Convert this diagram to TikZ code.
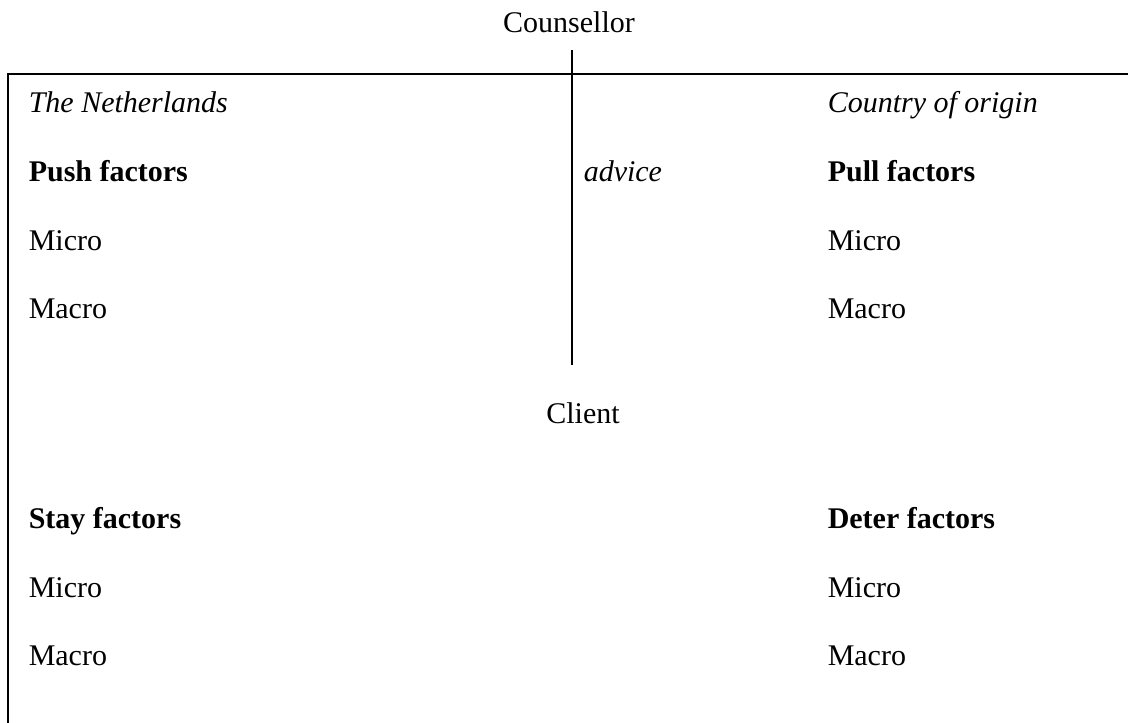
\documentclass[tikz,border=0pt]{standalone}
\usepackage{fontspec}
\setmainfont{Liberation Serif}

\begin{document}
\begin{tikzpicture}[x=1pt,y=-1pt,line width=1.5pt,
    txt/.style={inner sep=0pt, anchor=base west, font=\fontsize{30}{36}\selectfont},
    mid/.style={txt, anchor=base},
    head/.style={txt, font=\fontsize{30}{36}\selectfont\bfseries},
    place/.style={txt, font=\fontsize{30}{36}\selectfont\itshape}]
    \useasboundingbox (0,0) rectangle (1128,723);

    % Caja y linea divisoria
    \coordinate (boxtr) at (1128,74);
    \coordinate (boxtl) at (8,74);
    \coordinate (boxbl) at (8,723);
    \coordinate (divtop) at (572,50);
    \coordinate (divbot) at (572,365);
    \draw (boxtr) -- (boxtl) -- (boxbl);
    \draw (divtop) -- (divbot);

    % Actores
    \node[mid] (counsellor) at (569,32) {Counsellor};
    \node[mid] (client) at (583,423) {Client};

    % Lugares
    \node[place] (nl) at (28,112) {The Netherlands};
    \node[place] (origin) at (827,112) {Country of origin};
    \node[place] (advice) at (583,181) {advice};

    % Factores
    \node[head] (push) at (28,181) {Push factors};
    \node[head] (pull) at (827,181) {Pull factors};
    \node[head] (stay) at (28,528) {Stay factors};
    \node[head] (deter) at (827,528) {Deter factors};

    % Micro / Macro
    \foreach \name/\x/\y in {push/28/250, pull/827/250, stay/28/597, deter/827/597} {
        \node[txt] (micro-\name) at (\x,\y) {Micro};
        \node[txt] (macro-\name) at (\x,\y+68) {Macro};
    }

\end{tikzpicture}
\end{document}
